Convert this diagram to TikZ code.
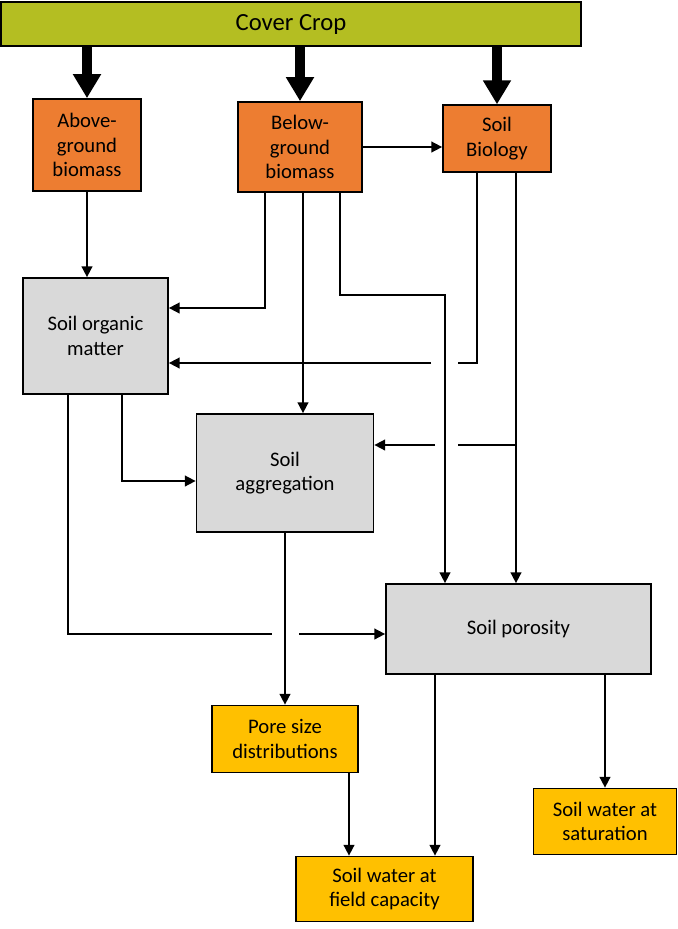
\documentclass[tikz,border=0pt]{standalone}
\usepackage{fontspec}
\setmainfont{Carlito}
\usetikzlibrary{arrows.meta, positioning}
\definecolor{cropgreen}{RGB}{180, 190, 34}
\definecolor{plantorange}{RGB}{237, 125, 49}
\definecolor{soilgray}{RGB}{217, 217, 217}
\definecolor{wateryellow}{RGB}{255, 192, 0}

\begin{document}
\begin{tikzpicture}[x=0.75pt, y=-0.75pt,
  box/.style={draw, line width=1.3pt, align=center, inner sep=2pt, font=\fontsize{15.5}{18.5}\selectfont},
  wire/.style={line width=1.2pt},
  link/.style={wire, -{Triangle[length=8pt, width=8pt]}},
  feed/.style={-{Triangle[length=18pt, width=20pt]}, line width=8pt}]
  \useasboundingbox (0,0) rectangle (678,929);

  % Cover crop bar
  \node[box, fill=cropgreen, minimum width=435pt, minimum height=33pt, font=\fontsize{18.5}{22}\selectfont] (crop) at (291,24) {Cover Crop};

  % Plant parts
  \node[box, fill=plantorange, minimum width=81pt, minimum height=69pt] (above) at (87,145) {Above-\\ground\\biomass};
  \node[box, fill=plantorange, minimum width=93pt, minimum height=67.5pt] (below) at (300,147) {Below-\\ground\\biomass};
  \node[box, fill=plantorange, minimum width=81pt, minimum height=50pt] (bio) at (497,138.5) {Soil\\Biology};

  % Soil properties
  \node[box, fill=soilgray, minimum width=108.75pt, minimum height=87pt] (som) at (95.5,336) {Soil organic\\matter};
  \node[box, fill=soilgray, minimum width=132.75pt, minimum height=88.5pt] (agg) at (285,473) {Soil\\aggregation};
  \node[box, fill=soilgray, minimum width=198.75pt, minimum height=67.5pt] (por) at (518.5,629) {Soil porosity};

  % Water outcomes
  \node[box, fill=wateryellow, minimum width=109.5pt, minimum height=50.25pt] (pore) at (285,739) {Pore size\\distributions};
  \node[box, fill=wateryellow, minimum width=132.75pt, minimum height=48.75pt] (field) at (384.5,889) {Soil water at\\field capacity};
  \node[box, fill=wateryellow, minimum width=107.25pt, minimum height=49.5pt] (sat) at (605,821.5) {Soil water at\\saturation};

  % Thick arrows from the cover crop
  \draw[feed] (crop.south -| above.north) -- (above.north);
  \draw[feed] (crop.south -| below.north) -- (below.north);
  \draw[feed] (crop.south -| bio.north) -- (bio.north);

  % Bends and gaps
  \coordinate (bsom) at (265,308);
  \coordinate (bpor1) at (340,295);
  \coordinate (bpor2) at (445,295);
  \coordinate (bbio1) at (477,363);
  \coordinate (gap1r) at (458,363);
  \coordinate (gap1l) at (431,363);
  \coordinate (bbio2) at (516,445);
  \coordinate (gap2r) at (458,445);
  \coordinate (gap2l) at (435,445);
  \coordinate (bsom1) at (122,481);
  \coordinate (bsom2) at (68,634);
  \coordinate (gap3l) at (272,634);
  \coordinate (gap3r) at (299,634);
  \coordinate (bfc1) at (349,800);
  \coordinate (bfc2) at (435,800);

  \draw[link] (below) -- (below -| bio.west);
  \draw[link] (above.south) -- (above.south |- som.north);
  \draw[link] (below.south -| bsom) |- (bsom -| som.east);
  \draw[link] ([xshift=2.25pt]below.south) -- ([xshift=2.25pt]below.south |- agg.north);
  \draw[link] (below.south -| bpor1) -- (bpor1) -- (bpor2) -- (bpor2 |- por.north);

  \draw[wire] (bio.south -| bbio1) -- (bbio1) -- (gap1r);
  \draw[link] (gap1l) -- (gap1l -| som.east);
  \draw[link] (bio.south -| bbio2) -- (bbio2 |- por.north);
  \draw[wire] (bbio2) -- (gap2r);
  \draw[link] (gap2l) -- (gap2l -| agg.east);

  \draw[link] (som.south -| bsom1) -- (bsom1) -- (bsom1 -| agg.west);
  \draw[wire] (som.south -| bsom2) -- (bsom2) -- (gap3l);
  \draw[link] (gap3r) -- (gap3r -| por.west);

  \draw[link] (agg.south) -- (agg.south |- pore.north);
  \draw[link] (pore.south -| bfc1) -- (field.north -| bfc1);
  \draw[link] (por.south -| bfc2) -- (field.north -| bfc2);
  \draw[link] (por.south -| sat.north) -- (sat.north);
\end{tikzpicture}
\end{document}
